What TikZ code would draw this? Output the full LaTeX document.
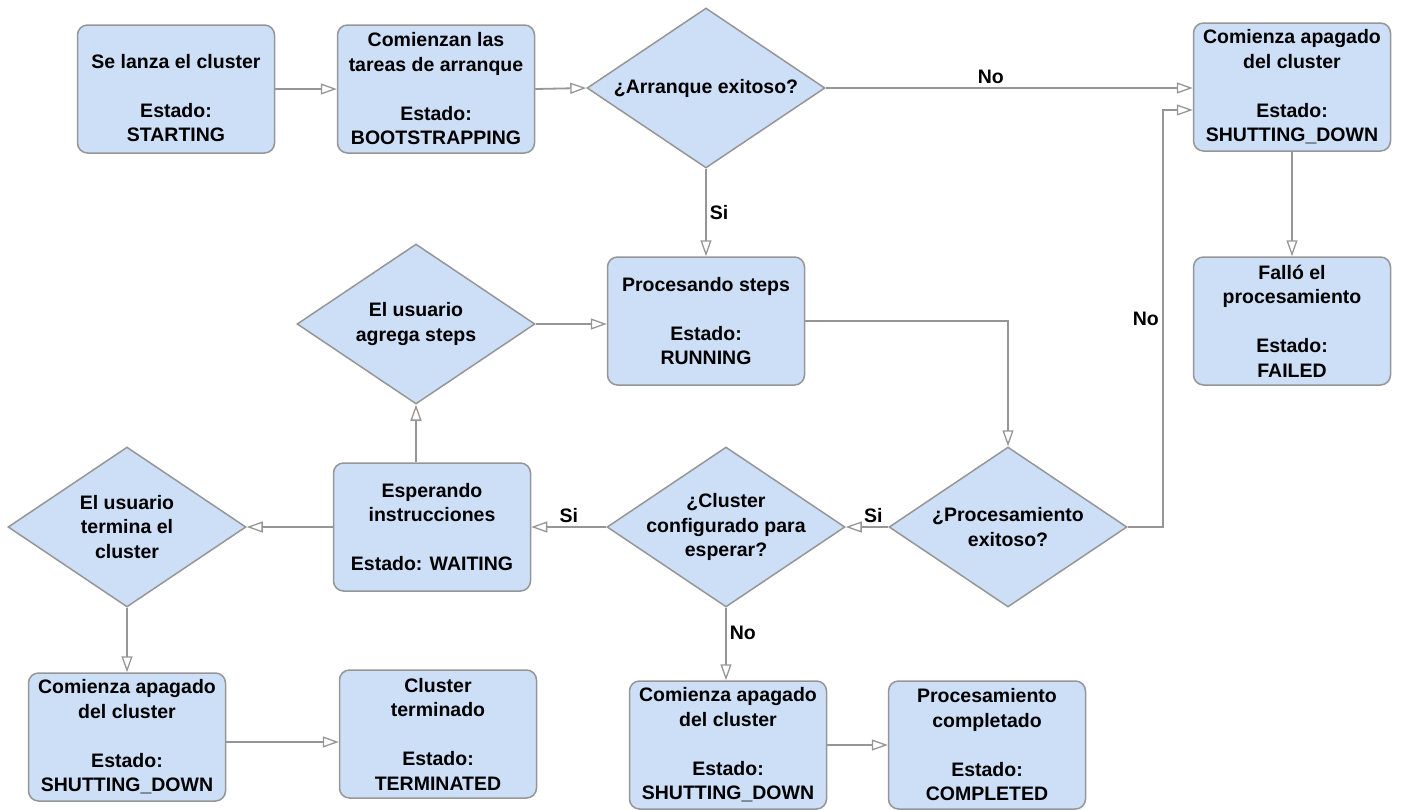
\documentclass[tikz,border=0pt]{standalone}
\usepackage{fontspec}
\setmainfont{Liberation Sans}
\usetikzlibrary{shapes.geometric,arrows.meta}
\definecolor{relleno}{RGB}{204,223,247}
\definecolor{borde}{RGB}{150,150,150}
\tikzset{
  texto/.style={align=center, font=\fontsize{19.5}{24.5}\selectfont\bfseries},
  caja/.style={texto, draw=borde, line width=1.5pt, fill=relleno, rounded corners=10pt,
    minimum width=197pt, minimum height=128pt, inner sep=2pt},
  decision/.style={diamond, draw=borde, line width=1.5pt, fill=relleno,
    minimum width=238pt, minimum height=160pt, inner sep=0pt},
  flecha/.style={-{Triangle[open,length=16pt,width=11pt,line width=1.3pt]}, draw=borde, line width=1.8pt},
  etiqueta/.style={texto, inner sep=3pt}
}

\begin{document}
\begin{tikzpicture}[x=1pt,y=-1pt]

\useasboundingbox (0,0) rectangle (1401,809);

% arranque del cluster
\node[caja] (inicio) at (176,89) {\rule{0pt}{32pt}Se lanza el cluster\\[24.5pt]Estado:\\STARTING};
\node[caja] (arranque) at (436,89) {Comienzan las\\tareas de arranque\\[24.5pt]Estado:\\BOOTSTRAPPING};
\node[decision, label={[texto]center:¿Arranque exitoso?}] (okarranque) at (706,88) {};
\node[caja] (apagadoA) at (1292,87) {Comienza apagado\\del cluster\\[24.5pt]Estado:\\SHUTTING\_DOWN};
\node[caja] (fallo) at (1292,321) {Falló el\\procesamiento\\[24.5pt]Estado:\\FAILED};

% procesamiento
\node[caja] (procesando) at (706,321) {Procesando steps\\[24.5pt]Estado:\\RUNNING};
\node[decision, label={[texto]center:{El usuario\\agrega steps}}] (agrega) at (416,324) {};
\node[decision, label={[texto]center:{¿Procesamiento\\exitoso?}}] (okproc) at (1008,527) {};
\node[decision, label={[texto]center:{¿Cluster\\configurado para\\esperar?}}] (esperar) at (726,527) {};
\node[caja] (esperando) at (432,527) {Esperando\\instrucciones\\[24.5pt]Estado: WAITING};
\node[decision, label={[texto]center:{El usuario\\termina el\\cluster}}] (termina) at (127,527) {};

% fin
\node[caja] (apagadoB) at (127,737) {Comienza apagado\\del cluster\\[24.5pt]Estado:\\SHUTTING\_DOWN};
\node[caja] (terminado) at (438,734) {Cluster\\terminado\\[24.5pt]Estado:\\TERMINATED};
\node[caja] (apagadoC) at (728,745) {Comienza apagado\\del cluster\\[24.5pt]Estado:\\SHUTTING\_DOWN};
\node[caja] (completado) at (987,745) {Procesamiento\\completado\\[24.5pt]Estado:\\COMPLETED};

\draw[flecha] (inicio) -- (arranque);
\draw[flecha] (arranque.east) -- (okarranque.west);
\draw[flecha] (okarranque.east) -- node[etiqueta, pos=0.45, above] {No} (apagadoA.west |- okarranque.east);
\draw[flecha] (okarranque.south) -- node[etiqueta, right] {Si} (procesando.north);
\draw[flecha] (apagadoA) -- (fallo);
\draw[flecha] (agrega.east) -- (agrega.east -| procesando.west);
\draw[flecha] (procesando.east) -| (okproc.north);
\draw[flecha] (okproc.east) -- ++(35,0) |- node[etiqueta, pos=0.25, left] {No} ([yshift=-23pt]apagadoA.west);
\draw[flecha] (okproc.west) -- node[etiqueta, pos=0.35, above] {Si} (esperar.east);
\draw[flecha] (esperar.west) -- node[etiqueta, above] {Si} (esperando.east);
\draw[flecha] (esperar.south) -- node[etiqueta, pos=0.35, right] {No} (esperar.south |- apagadoC.north);
\draw[flecha] (apagadoC) -- (completado);
\draw[flecha] (agrega.south |- esperando.north) -- (agrega.south);
\draw[flecha] (esperando.west) -- (termina.east);
\draw[flecha] (termina.south) -- (apagadoB.north);
\draw[flecha] ([yshift=-5pt]apagadoB.east) -- ([yshift=-5pt]apagadoB.east -| terminado.west);

\end{tikzpicture}
\end{document}
